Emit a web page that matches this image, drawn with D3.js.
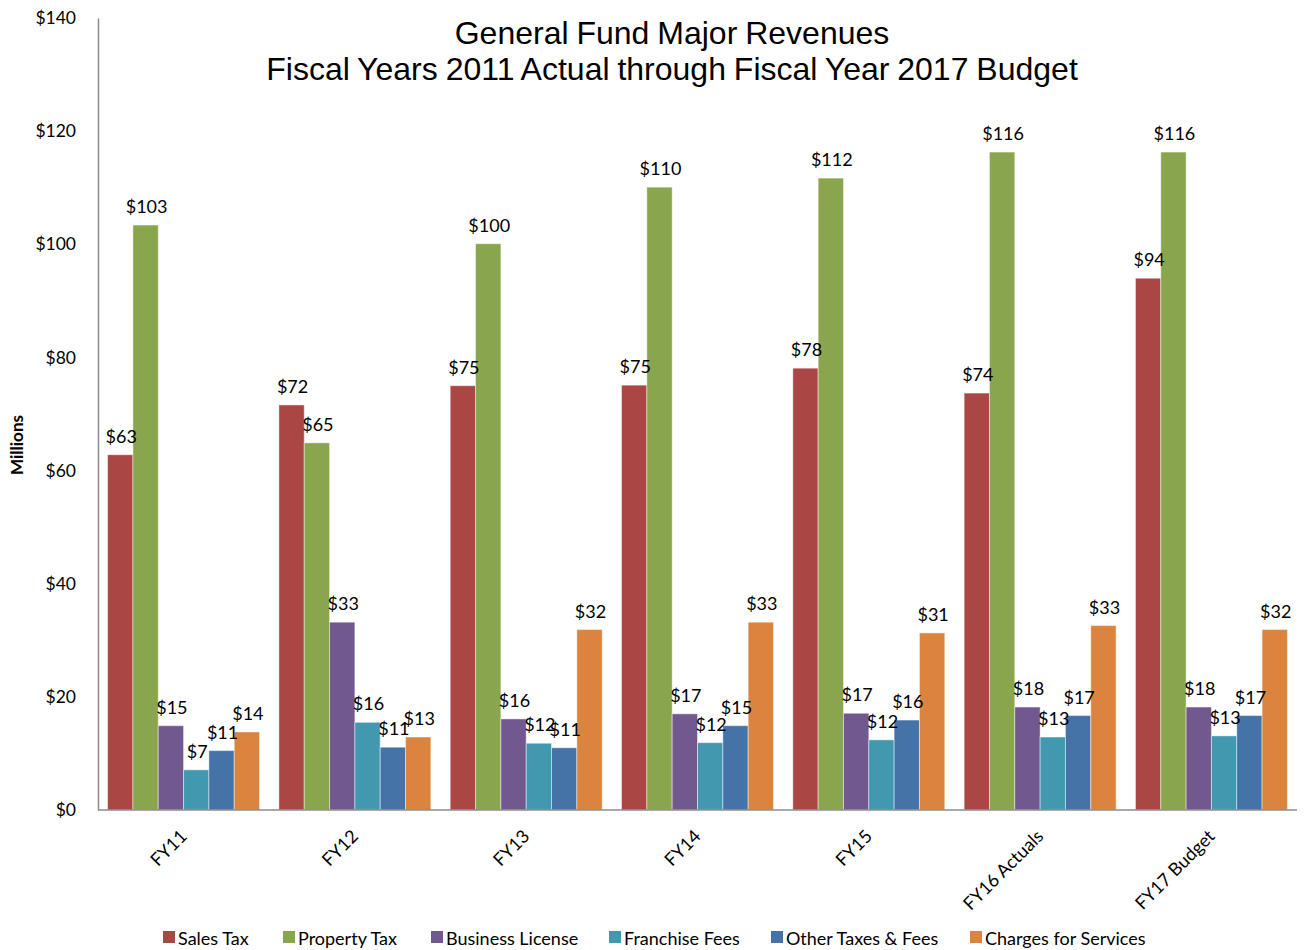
<!DOCTYPE html>
<html><head><meta charset="utf-8">
<script src="https://cdn.jsdelivr.net/npm/d3@7"></script>
<style>body{margin:0;background:#fff}</style>
</head><body>
<svg id="chart" width="1304" height="950"></svg>
<script>
const categories = ["FY11","FY12","FY13","FY14","FY15","FY16 Actuals","FY17 Budget"];
const seriesNames = ["Sales Tax","Property Tax","Business License","Franchise Fees","Other Taxes & Fees","Charges for Services"];
const salesTax      = [62.8, 71.6, 75.0, 75.1, 78.1, 73.7, 94.0];
const propertyTax   = [103.4, 64.9, 100.1, 110.1, 111.7, 116.3, 116.3];
const businessLic   = [14.9, 33.2, 16.1, 17.0, 17.1, 18.2, 18.2];
const franchiseFees = [7.1, 15.5, 11.8, 11.9, 12.4, 12.9, 13.1];
const otherTaxes    = [10.5, 11.1, 11.0, 14.9, 15.9, 16.7, 16.7];
const charges       = [13.8, 12.9, 31.9, 33.2, 31.3, 32.6, 31.9];
const yTicks = [0,20,40,60,80,100,120,140];
const colors = ["#AA4643","#89A54E","#71588F","#4198AF","#4572A7","#DB843D"];
const labels = {
  "Sales Tax":[63,72,75,75,78,74,94],
  "Property Tax":[103,65,100,110,112,116,116],
  "Business License":[15,33,16,17,17,18,18],
  "Franchise Fees":[7,16,12,12,12,13,13],
  "Other Taxes & Fees":[11,11,11,15,16,17,17],
  "Charges for Services":[14,13,32,33,31,33,32]
};
const seriesVals = [salesTax, propertyTax, businessLic, franchiseFees, otherTaxes, charges];

const svg = d3.select("#chart");
const font = "Lato, 'Open Sans', sans-serif";
const plotLeft = 98, plotRight = 1297, plotTop = 18, plotBottom = 810;

const x0 = d3.scaleBand().domain(categories).range([plotLeft, plotRight]).paddingInner(0.113).paddingOuter(0.056);
const x1 = d3.scaleBand().domain(seriesNames).range([0, x0.bandwidth()]);
const y = d3.scaleLinear().domain([0,140]).range([plotBottom, plotTop]);

// title
const title = svg.append("text").attr("x", 672).attr("text-anchor","middle")
  .style("font-family","'Liberation Sans', Arial, sans-serif").style("font-size","32px")
  .style("word-spacing","-1px").attr("fill","#000");
title.append("tspan").attr("x",672).attr("y",44).text("General Fund Major Revenues");
title.append("tspan").attr("x",672).attr("y",80).text("Fiscal Years 2011 Actual through Fiscal Year 2017 Budget");

// y axis
const yAxis = d3.axisLeft(y).tickValues(yTicks).tickSize(0).tickPadding(22).tickFormat(d => "$" + d);
const yg = svg.append("g").attr("transform", `translate(${plotLeft},0)`).call(yAxis);
yg.select(".domain").attr("stroke","#8c8c8c").attr("stroke-width",1.5);
yg.selectAll("text").style("font-family",font).style("font-size","17.5px").attr("fill","#000");

svg.append("text").attr("transform","translate(23,445) rotate(-90)").attr("text-anchor","middle")
  .style("font-family",font).style("font-size","17px").style("font-weight","bold").text("Millions");

// bars
const groups = svg.append("g").selectAll("g").data(categories).join("g")
  .attr("transform", d => `translate(${x0(d)},0)`);
seriesNames.forEach((s, si) => {
  groups.append("rect")
    .attr("x", x1(s)).attr("width", x1.bandwidth())
    .attr("y", (d,i) => y(seriesVals[si][i]))
    .attr("height", (d,i) => y(0) - y(seriesVals[si][i]))
    .attr("fill", colors[si]).attr("stroke","rgba(255,255,255,0.45)").attr("stroke-width",1);
});
seriesNames.forEach((s, si) => {
  groups.append("text")
    .attr("x", x1(s) + x1.bandwidth()/2 + 1)
    .attr("y", (d,i) => y(seriesVals[si][i]) - 12)
    .attr("text-anchor","middle")
    .style("font-family",font).style("font-size","18px").attr("fill","#000")
    .text((d,i) => "$" + labels[s][i]);
});

// x axis
const xAxis = d3.axisBottom(x0).tickSize(0).tickPadding(0);
const xg = svg.append("g").attr("transform", `translate(0,${plotBottom})`).call(xAxis);
xg.select(".domain").attr("d", `M${plotLeft},0H${plotRight}`).attr("stroke","#8c8c8c").attr("stroke-width",1.5);
xg.selectAll(".tick text").attr("transform","translate(0,23) rotate(-45)").attr("text-anchor","end")
  .attr("dy","0.35em").attr("y",0)
  .style("font-family",font).style("font-size","18px").attr("fill","#000");

// legend
const legendX = [163, 283, 431, 609, 771, 970];
const lg = svg.append("g");
seriesNames.forEach((s, si) => {
  lg.append("rect").attr("x", legendX[si]).attr("y", 931).attr("width",12).attr("height",12).attr("fill",colors[si]);
  lg.append("text").attr("x", legendX[si] + 15).attr("y", 945)
    .style("font-family",font).style("font-size","18px").attr("fill","#000").text(s);
});
</script>
</body></html>
